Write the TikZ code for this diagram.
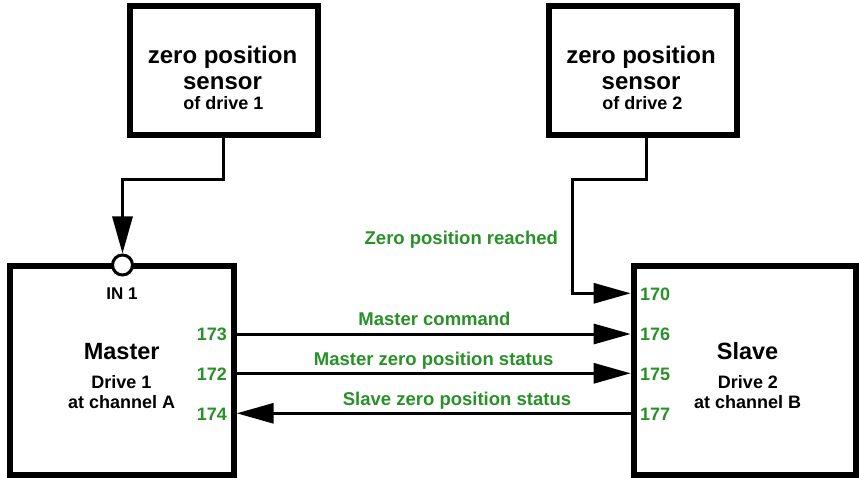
\documentclass[tikz,border=0pt]{standalone}
\usepackage{fontspec}
\setmainfont{Liberation Sans}
\usetikzlibrary{arrows.meta}
\definecolor{lblgreen}{RGB}{40,145,40}
\begin{document}
\begin{tikzpicture}[x=1pt,y=-1pt,
 box/.style={draw, line width=6pt, inner sep=0pt},
 wire/.style={line width=3pt},
 arr/.style={wire, -{Triangle[length=37pt,width=20pt]}},
 big/.style={font=\fontsize{24}{28}\selectfont\bfseries, inner sep=0pt, anchor=base},
 mid/.style={font=\fontsize{23.5}{28}\selectfont\bfseries, inner sep=0pt, anchor=base},
 small/.style={font=\fontsize{18}{22}\selectfont\bfseries, inner sep=0pt, anchor=base},
 glbl/.style={font=\fontsize{18.5}{22}\selectfont\bfseries, text=lblgreen, inner sep=0pt, anchor=base},
 port/.style={font=\fontsize{18}{22}\selectfont\bfseries, text=lblgreen, inner sep=0pt},
]
\useasboundingbox (0,0) rectangle (859,478);
\fill[white] (0,0) rectangle (859,478);
% boxes
\node[box, minimum width=188.3pt, minimum height=129pt] (sen1) at (223.85,70.2) {};
\node[box, minimum width=188pt, minimum height=129pt] (sen2) at (643,70.2) {};
\node[box, minimum width=224pt, minimum height=209pt] (master) at (121.7,370.2) {};
\node[box, minimum width=222.6pt, minimum height=209pt] (slave) at (745,370.2) {};
% sensor texts
\node[big] (s1a) at (222.5,64) {zero position};
\node[big] (s1b) at (222.5,90) {sensor};
\node[small] (s1c) at (223.5,110) {of drive 1};
\node[big] (s2a) at (641,64) {zero position};
\node[big] (s2b) at (641,90) {sensor};
\node[small] (s2c) at (642.5,110) {of drive 2};
% master / slave texts
\node[font=\fontsize{17}{20}\selectfont\bfseries, inner sep=0pt, anchor=base] (in1lbl) at (122,299.3) {IN 1};
\node[mid] (ma) at (121.7,359.3) {Master};
\node[small] (mb) at (121.5,388.3) {Drive 1};
\node[small] (mc) at (121.7,408.3) {at channel A};
\node[mid] (sa) at (747.6,359.3) {Slave};
\node[small] (sb) at (748,388.3) {Drive 2};
\node[small] (sc) at (747.7,408.3) {at channel B};
% input circle
\node[circle, draw, line width=3pt, fill=white, minimum size=20pt, inner sep=0pt] (in1) at (122.5,265) {};
% port numbers
\node[port, anchor=base east] (n173) at (227,340) {173};
\node[port, anchor=base east] (n172) at (227,380) {172};
\node[port, anchor=base east] (n174) at (227,420) {174};
\node[port, anchor=base west] (n170) at (640,300.7) {170};
\node[port, anchor=base west] (n176) at (640,340) {176};
\node[port, anchor=base west] (n175) at (640,380) {175};
\node[port, anchor=base west] (n177) at (640,420) {177};
% coordinates
\coordinate (k1) at (122.5,180);
\coordinate (s2out) at (646.7,134.7);
\coordinate (k2) at (572.5,180);
\coordinate (s170) at (630.7,293.3);
\coordinate (m173) at (236.7,334);
\coordinate (s176) at (630.7,334);
\coordinate (m172) at (236.7,373.3);
\coordinate (s175) at (630.7,373.3);
\coordinate (m174) at (236.7,413.3);
\coordinate (s177) at (630.7,413.3);
% connectors
\draw[arr] (sen1.south) |- (k1) -- (in1.north);
\draw[arr] (s2out) |- (k2) |- (s170);
\draw[arr] (m173) -- (s176);
\draw[arr] (m172) -- (s175);
\draw[arr] (s177) -- (m174);
% green labels
\node[glbl] (lz) at (461.3,245) {Zero position reached};
\node[glbl] (lmc) at (434.5,325) {Master command};
\node[glbl] (lmz) at (433.7,365.7) {Master zero position status};
\node[glbl] (lsz) at (457,405.7) {Slave zero position status};
\end{tikzpicture}
\end{document}
